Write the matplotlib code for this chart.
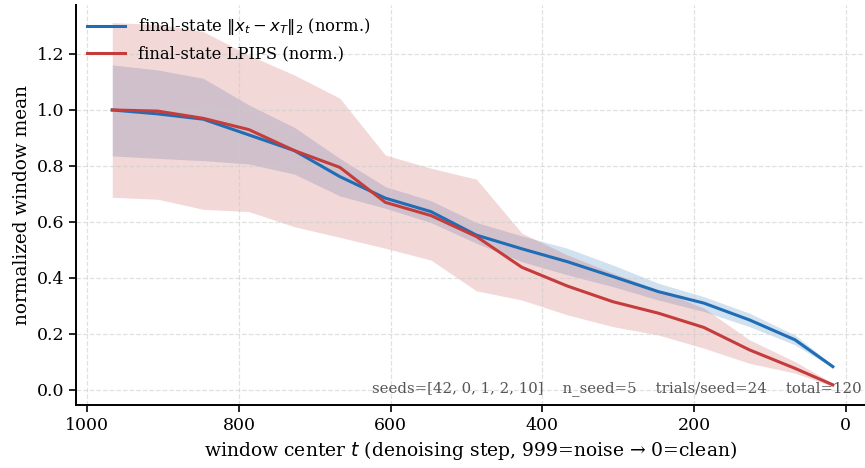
import matplotlib
matplotlib.use("Agg")
import matplotlib.pyplot as plt

plt.rcParams['font.family'] = 'DejaVu Serif'
plt.rcParams['mathtext.fontset'] = 'dejavusans'

# window centers (denoising step)
t_centers = [967, 907, 847, 787, 727, 667, 607, 547, 487, 427, 367, 307, 247, 187, 127, 67, 17]

# final-state ||x_t - x_T||_2 (normalized)
l2_mean = [1.000, 0.986, 0.967, 0.911, 0.855, 0.762, 0.685, 0.637, 0.553,
           0.504, 0.458, 0.405, 0.351, 0.310, 0.250, 0.179, 0.083]
l2_lo = [0.836, 0.827, 0.819, 0.807, 0.771, 0.693, 0.649, 0.598, 0.524,
         0.458, 0.411, 0.369, 0.321, 0.280, 0.226, 0.161, 0.079]
l2_hi = [1.161, 1.143, 1.113, 1.018, 0.938, 0.827, 0.726, 0.676, 0.598,
         0.550, 0.506, 0.446, 0.381, 0.333, 0.274, 0.196, 0.089]

# final-state LPIPS (normalized)
lp_mean = [1.000, 0.996, 0.970, 0.930, 0.855, 0.795, 0.670, 0.623, 0.548,
           0.438, 0.371, 0.315, 0.274, 0.223, 0.143, 0.077, 0.018]
lp_lo = [0.688, 0.681, 0.645, 0.637, 0.583, 0.545, 0.506, 0.464, 0.354,
         0.321, 0.268, 0.226, 0.196, 0.149, 0.095, 0.060, 0.012]
lp_hi = [1.312, 1.306, 1.280, 1.196, 1.125, 1.042, 0.839, 0.792, 0.753,
         0.560, 0.482, 0.417, 0.357, 0.292, 0.179, 0.101, 0.024]

blue = '#1f6db5'
red = '#c43c3c'

fig = plt.figure(figsize=(8.65, 4.68), dpi=100)
ax = fig.add_axes([76 / 865, 63 / 468, 789 / 865, 400 / 468])

ax.fill_between(t_centers, l2_lo, l2_hi, color=blue, alpha=0.2, linewidth=0)
ax.plot(t_centers, l2_mean, color=blue, lw=2.2, label=r'final-state $\|x_t - x_T\|_2$ (norm.)')
ax.fill_between(t_centers, lp_lo, lp_hi, color=red, alpha=0.2, linewidth=0)
ax.plot(t_centers, lp_mean, color=red, lw=2.2, label='final-state LPIPS (norm.)')

ax.set_xlim(1014.8, -25.4)
ax.set_ylim(-0.054, 1.375)
ax.set_xticks([1000, 800, 600, 400, 200, 0])
ax.set_yticks([0.0, 0.2, 0.4, 0.6, 0.8, 1.0, 1.2])

ax.grid(True, linestyle='--', color='#cccccc', alpha=0.6, linewidth=0.9)
ax.spines['top'].set_visible(False)
ax.spines['right'].set_visible(False)
ax.spines['left'].set_linewidth(1.4)
ax.spines['bottom'].set_linewidth(1.4)
ax.tick_params(labelsize=12.5, length=5, width=1.2)

ax.set_xlabel('window center $t$ (denoising step, 999=noise \u2192 0=clean)', fontsize=13.5)
ax.set_ylabel('normalized window mean', fontsize=13.3)

ax.legend(loc='upper left', frameon=False, fontsize=11.8, borderaxespad=0.3,
          handlelength=2.3, bbox_to_anchor=(0.0, 1.0))

ax.text(0.996, 0.022, 'seeds=[42, 0, 1, 2, 10]    n_seed=5    trials/seed=24    total=120',
        transform=ax.transAxes, ha='right', va='bottom', fontsize=10.7, color='#555555')

fig.savefig('out.png', dpi=100)
